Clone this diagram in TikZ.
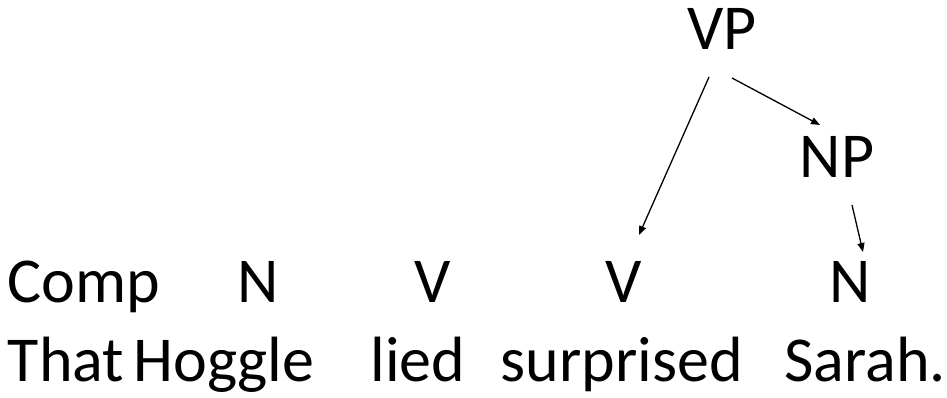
\documentclass[tikz,border=0pt]{standalone}
\usepackage{fontspec}
\setmainfont{Carlito}
\usetikzlibrary{arrows.meta,calc}
\begin{document}
\begin{tikzpicture}[x=1pt,y=1pt,
  word/.style={anchor=base,inner sep=0pt,font=\fontsize{64}{70}\selectfont},
  edge/.style={line width=1.3pt,-{Triangle[length=9pt,width=7pt]}}]
\useasboundingbox (0,0) rectangle (947,397);
% tree labels
\node[word] (VP) at (722,347) {VP};
\node[word] (NP) at (837,220) {NP};
% category row
\node[word] (Comp) at (84,95) {Comp};
\node[word] (N1) at (258,95) {N};
\node[word] (V1) at (433,95) {V};
\node[word] (V2) at (624,95) {V};
\node[word] (N2) at (850,95) {N};
% words row
\node[word] (That) at (66,16) {That};
\node[word] (Hoggle) at (224,16) {Hoggle};
\node[word] (lied) at (418,16) {lied};
\node[word] (surprised) at (622,16) {surprised};
\node[word] (Sarah) at (865,16) {Sarah.};
% connectors
\draw[edge] ($(VP.base)+(-13,-27)$) -- ($(V2.base)+(15,67)$);
\draw[edge] ($(VP.base)+(10,-28)$) -- ($(NP.base)+(-17,52)$);
\draw[edge] ($(NP.base)+(15,-28)$) -- ($(N2.base)+(13,50)$);
\end{tikzpicture}
\end{document}
